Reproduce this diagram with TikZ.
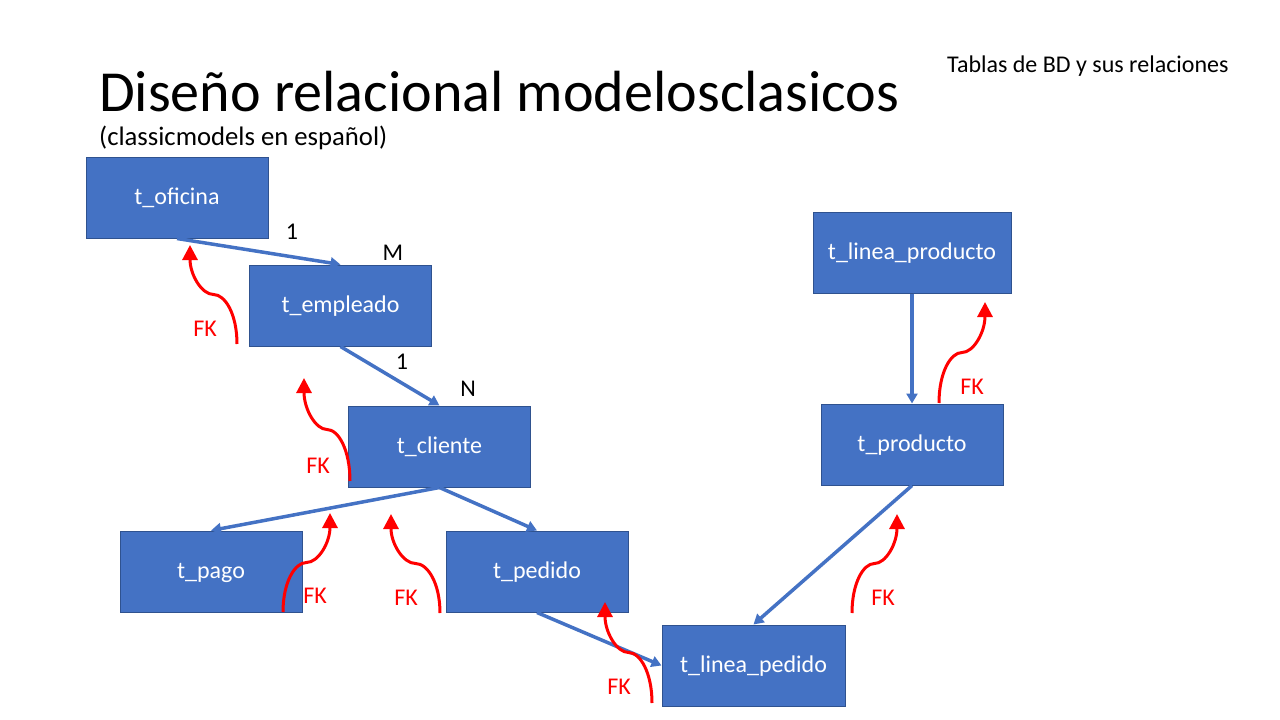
\documentclass[tikz,border=0pt]{standalone}
\usepackage{fontspec}
\setmainfont{Carlito}
\usetikzlibrary{arrows.meta,calc}
\definecolor{boxblue}{HTML}{4472C4}
\definecolor{boxedge}{HTML}{2F528F}
\definecolor{fkred}{HTML}{FF0000}

% S-shaped red foreign-key arrow from (<name>s) up to (<name>e)
\newcommand\fkarc[1]{%
  \coordinate (#1m) at ($(#1s)!0.5!(#1e)$);
  \coordinate (#1p) at (#1s |- #1m);
  \coordinate (#1q) at (#1e |- #1m);
  \draw[fk] (#1s) .. controls ($(#1s)!0.6!(#1p)$) and ($(#1m)!0.5!(#1p)$) .. (#1m)
                  .. controls ($(#1m)!0.5!(#1q)$) and ($(#1e)!0.6!(#1q)$) .. (#1e);}

\begin{document}
\begin{tikzpicture}[x=1pt,y=-1pt,
  tbl/.style={draw=boxedge,line width=1pt,fill=boxblue,text=white,
    minimum width=182pt,minimum height=81pt,inner sep=0pt,
    text height=16pt,text depth=2pt,
    font=\fontsize{24}{28}\selectfont},
  rel/.style={draw=boxblue,line width=3.5pt,-{Triangle[length=10pt,width=11pt]}},
  fk/.style={draw=fkred,line width=3pt,-{Triangle[length=15pt,width=15pt]}},
  card/.style={font=\fontsize{24}{28}\selectfont},
  fklabel/.style={text=fkred,font=\fontsize{24}{28}\selectfont}]

\useasboundingbox (0,0) rectangle (1280,720);

% headings
\node[anchor=base west,inner sep=0pt,font=\fontsize{58.1}{66}\selectfont] (title) at (99,111) {Diseño relacional modelosclasicos};
\node[anchor=base west,inner sep=0pt,font=\fontsize{26.7}{31}\selectfont] (subtitle) at (99,145) {(classicmodels en español)};
\node[anchor=base west,inner sep=0pt,font=\fontsize{24}{28}\selectfont] (note) at (947,72) {Tablas de BD y sus relaciones};

% tables
\node[tbl] (oficina) at (177,197.5) {t\_oficina};
\node[tbl] (empleado) at (340.5,305.5) {t\_empleado};
\node[tbl] (cliente) at (439.5,446.5) {t\_cliente};
\node[tbl] (pago) at (211,571.5) {t\_pago};
\node[tbl] (pedido) at (537,571.5) {t\_pedido};
\node[tbl,minimum width=183pt] (lineapedido) at (753.5,665.5) {t\_linea\_pedido};
\node[tbl,minimum width=198pt] (lineaproducto) at (912,252.5) {t\_linea\_producto};
\node[tbl] (producto) at (912,444.5) {t\_producto};

% relationships
\draw[rel] (oficina.south) -- (empleado.north);
\draw[rel] (empleado.south) -- (cliente.north);
\draw[rel] (cliente.south) -- (pago.north);
\draw[rel] (cliente.south) -- (pedido.north);
\draw[rel] (pedido.south) -- (lineapedido.west);
\draw[rel] (producto.south) -- (lineapedido.north);
\draw[rel] (lineaproducto.south) -- (producto.north);

% cardinalities
\node[card] (c1) at (292,232) {1};
\node[card] (cM) at (393,253) {M};
\node[card] (c2) at (402,362) {1};
\node[card] (cN) at (468,389) {N};

% foreign keys
\coordinate (fkAs) at (237,344); \coordinate (fkAe) at (190,245);
\coordinate (fkBs) at (350,481); \coordinate (fkBe) at (304,378);
\coordinate (fkCs) at (283,612); \coordinate (fkCe) at (330,513);
\coordinate (fkDs) at (440,613); \coordinate (fkDe) at (391,514);
\coordinate (fkEs) at (652,703); \coordinate (fkEe) at (605,602);
\coordinate (fkFs) at (852,613); \coordinate (fkFe) at (897,514);
\coordinate (fkGs) at (939,403); \coordinate (fkGe) at (985,302);
\fkarc{fkA}
\fkarc{fkB}
\fkarc{fkC}
\fkarc{fkD}
\fkarc{fkE}
\fkarc{fkF}
\fkarc{fkG}

\node[fklabel] (fk1) at (205,329) {FK};
\node[fklabel] (fk2) at (318,466) {FK};
\node[fklabel] (fk3) at (315,596) {FK};
\node[fklabel] (fk4) at (406,598) {FK};
\node[fklabel] (fk5) at (619,687) {FK};
\node[fklabel] (fk6) at (883,598) {FK};
\node[fklabel] (fk7) at (972,387) {FK};
\end{tikzpicture}
\end{document}
